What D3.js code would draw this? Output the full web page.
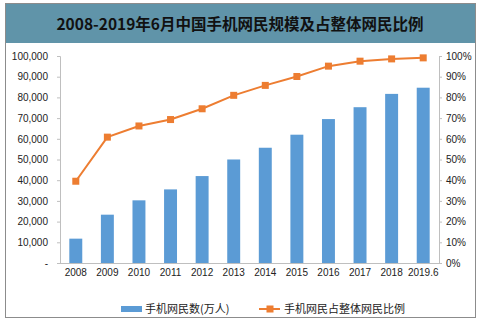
<!DOCTYPE html>
<html><head><meta charset="utf-8">
<script src="https://cdn.jsdelivr.net/npm/d3@7"></script>
<style>body{margin:0;background:#fff}svg{display:block}</style>
</head><body>
<script>
const categories = ["2008","2009","2010","2011","2012","2013","2014","2015","2016","2017","2018","2019.6"];
const users = [11760,23344,30274,35558,41997,50006,55678,61981,69531,75265,81698,84681];
const ratio = [39.5,60.8,66.2,69.3,74.5,81.0,85.8,90.1,95.1,97.5,98.6,99.1];
const leftTicks = [0,10000,20000,30000,40000,50000,60000,70000,80000,90000,100000];
const rightTicks = [0,10,20,30,40,50,60,70,80,90,100];
const title = "2008-2019年6月中国手机网民规模及占整体网民比例";
const seriesNames = ["手机网民数(万人)","手机网民占整体网民比例"];

const W=480,H=323;
const svg=d3.select("body").append("svg").attr("width",W).attr("height",H);
svg.append("rect").attr("x",5.5).attr("y",3.5).attr("width",470).attr("height",314).attr("fill","#fff").attr("stroke","#8c8c8c");
svg.append("rect").attr("x",6).attr("y",4).attr("width",469).attr("height",39).attr("fill","#6094a9");
svg.append("text").attr("x",240).attr("y",30).attr("text-anchor","middle")
  .attr("font-family","'Noto Sans CJK SC'").attr("font-weight","bold").attr("font-size",15.5).attr("fill","#111").text(title);

const L=60,R=439,T=56,B=263;
const x=d3.scaleBand().domain(categories).range([L,R]).paddingInner(0.59).paddingOuter(0.295);
const y=d3.scaleLinear().domain([0,100000]).range([B,T]);
const y2=d3.scaleLinear().domain([0,100]).range([B,T]);
const font="'Liberation Sans', Arial, sans-serif";

const ax=svg.append("g").attr("transform",`translate(${L},0)`)
  .call(d3.axisLeft(y).tickValues(leftTicks).tickSize(3).tickPadding(9).tickFormat(d=>d===0?"-":d3.format(",")(d)));
const ax2=svg.append("g").attr("transform",`translate(${R},0)`)
  .call(d3.axisRight(y2).tickValues(rightTicks).tickSize(3).tickPadding(4).tickFormat(d=>d+"%"));
const axb=svg.append("g").attr("transform",`translate(0,${B})`)
  .call(d3.axisBottom(x).tickSize(0).tickPadding(6));
[ax,ax2,axb].forEach(g=>{
  g.selectAll("path,line").attr("stroke","#bfbfbf");
  g.selectAll("text").attr("font-family",font).attr("font-size",10).attr("fill","#222");
});
axb.select(".domain").attr("d",`M${L},0.5H${R}`);

svg.append("g").selectAll("rect").data(users).join("rect")
  .attr("x",(d,i)=>x(categories[i])).attr("width",x.bandwidth())
  .attr("y",d=>y(d)).attr("height",d=>B-y(d)).attr("fill","#5b9bd5");

const cx=(i)=>x(categories[i])+x.bandwidth()/2;
svg.append("path").datum(ratio).attr("fill","none").attr("stroke","#ed7d31").attr("stroke-width",2)
  .attr("d",d3.line().x((d,i)=>cx(i)).y(d=>y2(d)));
svg.append("g").selectAll("rect").data(ratio).join("rect")
  .attr("x",(d,i)=>cx(i)-3.5).attr("y",d=>y2(d)-3.5).attr("width",7).attr("height",7).attr("fill","#ed7d31");

// legend
const ly=309;
svg.append("rect").attr("x",121).attr("y",ly-3).attr("width",21).attr("height",6).attr("fill","#5b9bd5");
svg.append("text").attr("x",145).attr("y",ly+4).attr("font-family","'Noto Sans CJK SC'").attr("font-size",11).attr("fill","#222").text(seriesNames[0]);
svg.append("line").attr("x1",259).attr("x2",280).attr("y1",ly).attr("y2",ly).attr("stroke","#ed7d31").attr("stroke-width",2);
svg.append("rect").attr("x",266.5).attr("y",ly-3.5).attr("width",7).attr("height",7).attr("fill","#ed7d31");
svg.append("text").attr("x",284).attr("y",ly+4).attr("font-family","'Noto Sans CJK SC'").attr("font-size",11).attr("fill","#222").text(seriesNames[1]);
</script>
</body></html>
